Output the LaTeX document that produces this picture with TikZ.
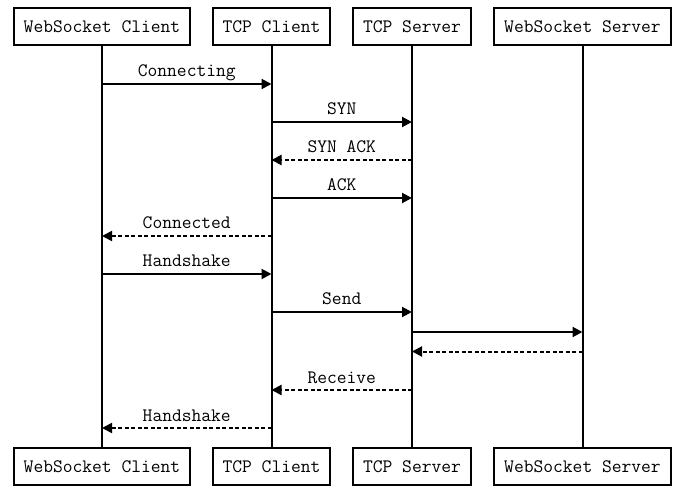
\documentclass[tikz,border=0pt]{standalone}
\usepackage{fontspec}
\usetikzlibrary{arrows.meta}
\begin{document}
\begin{tikzpicture}[x=1pt,y=-1pt,
  actor/.style={draw=black,line width=2pt,fill=white,inner xsep=10pt,inner ysep=0pt,
    minimum height=37pt,text height=11.5pt,text depth=0pt,font=\ttfamily\fontsize{19}{22}\selectfont},
  life/.style={line width=2pt},
  msg/.style={line width=2pt,-{Triangle[length=10pt,width=10pt]}},
  reply/.style={msg,dash pattern=on 4pt off 2.5pt},
  lbl/.style={anchor=base,inner sep=0pt,font=\ttfamily\fontsize{19}{22}\selectfont}]
\useasboundingbox (0,0) rectangle (681,492);
% lifelines first (behind boxes)
\coordinate (c1) at (102,0);
\coordinate (c2) at (271.5,0);
\coordinate (c3) at (412,0);
\coordinate (c4) at (582.5,0);
\draw[life] (c1 |- 0,26.5) -- (c1 |- 0,466.5);
\draw[life] (c2 |- 0,26.5) -- (c2 |- 0,466.5);
\draw[life] (c3 |- 0,26.5) -- (c3 |- 0,466.5);
\draw[life] (c4 |- 0,26.5) -- (c4 |- 0,466.5);
% top actors
\node[actor] (t1) at (102,26.5) {WebSocket Client};
\node[actor] (t2) at (271.5,26.5) {TCP Client};
\node[actor] (t3) at (412,26.5) {TCP Server};
\node[actor] (t4) at (582.5,26.5) {WebSocket Server};
% bottom actors
\node[actor] (b1) at (102,466.5) {WebSocket Client};
\node[actor] (b2) at (271.5,466.5) {TCP Client};
\node[actor] (b3) at (412,466.5) {TCP Server};
\node[actor] (b4) at (582.5,466.5) {WebSocket Server};
% message rows
\coordinate (m1) at (0,84);
\coordinate (m2) at (0,122);
\coordinate (m3) at (0,160);
\coordinate (m4) at (0,198);
\coordinate (m5) at (0,236);
\coordinate (m6) at (0,274);
\coordinate (m7) at (0,312);
\coordinate (m8) at (0,332);
\coordinate (m9) at (0,351.5);
\coordinate (m10) at (0,390);
\coordinate (m11) at (0,428);
\draw[msg] (t1 |- m1) -- node[lbl,yshift=7pt]{Connecting} (t2 |- m1);
\draw[msg] (t2 |- m2) -- node[lbl,yshift=7pt]{SYN} (t3 |- m2);
\draw[reply] (t3 |- m3) -- node[lbl,yshift=7pt]{SYN ACK} (t2 |- m3);
\draw[msg] (t2 |- m4) -- node[lbl,yshift=7pt]{ACK} (t3 |- m4);
\draw[reply] (t2 |- m5) -- node[lbl,yshift=7pt]{Connected} (t1 |- m5);
\draw[msg] (t1 |- m6) -- node[lbl,yshift=7pt]{Handshake} (t2 |- m6);
\draw[msg] (t2 |- m7) -- node[lbl,yshift=7pt]{Send} (t3 |- m7);
\draw[msg] (t3 |- m8) -- (t4 |- m8);
\draw[reply] (t4 |- m9) -- (t3 |- m9);
\draw[reply] (t3 |- m10) -- node[lbl,yshift=7pt]{Receive} (t2 |- m10);
\draw[reply] (t2 |- m11) -- node[lbl,yshift=7pt]{Handshake} (t1 |- m11);
\end{tikzpicture}
\end{document}
